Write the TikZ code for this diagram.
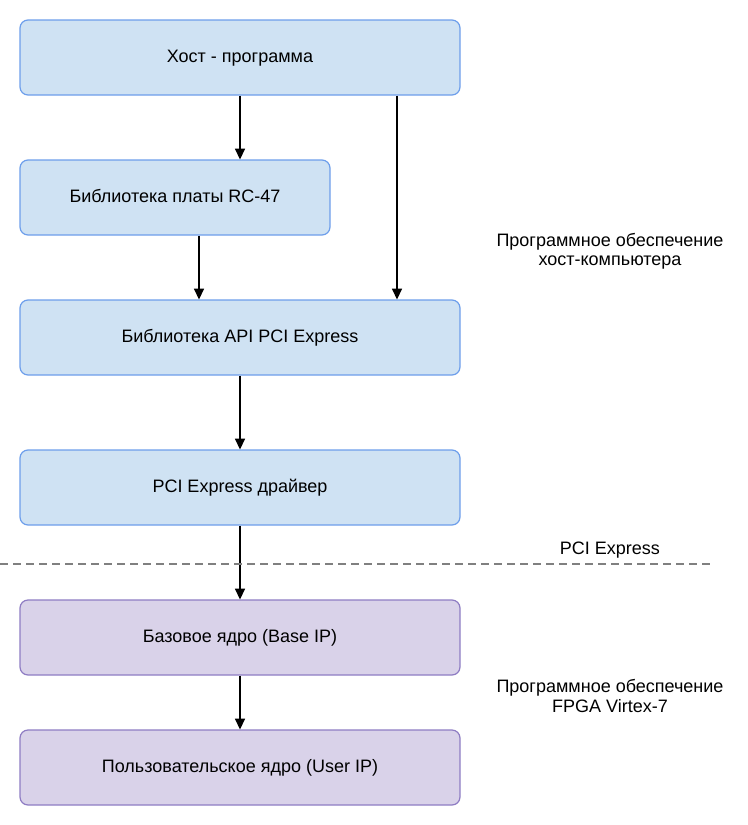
\documentclass[tikz,border=0pt]{standalone}
\usepackage{fontspec}
\setmainfont{Liberation Sans}
\usepackage{xcolor}
\usetikzlibrary{arrows.meta}

\definecolor{hostfill}{HTML}{CFE2F3}
\definecolor{hostline}{HTML}{6D9EEB}
\definecolor{fpgafill}{HTML}{D9D2E9}
\definecolor{fpgaline}{HTML}{8E7CC3}

\begin{document}
\begin{tikzpicture}[
    x=0.75pt, y=-0.75pt,
    box/.style={draw, line width=0.9pt, rounded corners=6pt, align=center, minimum width=330pt, minimum height=56.25pt, text height=9.5pt, text depth=1.5pt, font=\fontsize{13.5}{16}\selectfont},
    hostbox/.style={box, fill=hostfill, draw=hostline},
    fpgabox/.style={box, fill=fpgafill, draw=fpgaline},
    arrow/.style={-{Triangle[width=7.5pt,length=8pt]}, line width=1.1pt},
    note/.style={align=center, font=\fontsize{13.5}{14.5}\selectfont}
]
\useasboundingbox (0,0) rectangle (748,825);

\node[hostbox] at (240,57.5) (host) {Хост - программа};
\node[hostbox, minimum width=232.5pt] at (175,197.5) (rclib) {Библиотека платы RC-47};
\node[hostbox] at (240,337.5) (pciapi) {Библиотека API PCI Express};
\node[hostbox] at (240,487.5) (driver) {PCI Express драйвер};
\node[fpgabox] at (240,637.5) (baseip) {Базовое ядро (Base IP)};
\node[fpgabox] at (240,767.5) (userip) {Пользовательское ядро (User IP)};

\draw[arrow] (host.south) -- (host.south |- rclib.north);
\draw[arrow] ([xshift=117.75pt]host.south) -- ([xshift=117.75pt]pciapi.north);
\draw[arrow] ([xshift=18pt]rclib.south) -- ([xshift=-30.75pt]pciapi.north);
\draw[arrow] (pciapi.south) -- (driver.north);
\draw[arrow] (driver.south) -- (baseip.north);
\draw[arrow] (baseip.south) -- (userip.north);

\coordinate (busleft) at (0,564);
\coordinate (busright) at (710,564);
\draw[gray, line width=0.9pt, dash pattern=on 6pt off 3.75pt] (busleft) -- (busright);

\node[note] at (610,251) (hostsw) {Программное обеспечение\\хост-компьютера};
\node[note] at (610,550) (buslabel) {PCI Express};
\node[note] at (610,696) (fpgasw) {Программное обеспечение\\FPGA Virtex-7};
\end{tikzpicture}
\end{document}
